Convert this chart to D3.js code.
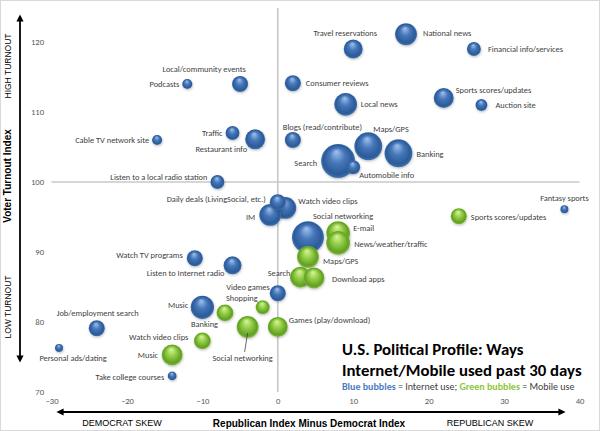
<!DOCTYPE html>
<html>
<head>
<meta charset="utf-8">
<script src="https://cdn.jsdelivr.net/npm/d3@7"></script>
<style>
  html, body { margin: 0; padding: 0; background: #fff; }
  svg { display: block; }
  .lbl { font-family: Carlito, Calibri, Lato, sans-serif; font-size: 8.4px; fill: #404040; }
  .tick text { font-family: Carlito, Calibri, Lato, sans-serif; font-size: 8.6px; fill: #595959; }
</style>
</head>
<body>
<svg id="chart" width="600" height="431"></svg>
<script>
// ---------- DATA ----------
const internetNames = ["Podcasts","Local/community events","Consumer reviews","Traffic","Restaurant info",
  "Blogs (read/contribute)","Cable TV network site","Listen to a local radio station","Travel reservations",
  "National news","Financial info/services","Sports scores/updates","Auction site","Local news","Maps/GPS",
  "Banking","Search","Automobile info","Fantasy sports","Daily deals (LivingSocial, etc.)","Watch video clips",
  "IM","Social networking","Watch TV programs","Listen to Internet radio","Video games","Music",
  "Job/employment search","Personal ads/dating","Take college courses"];
const internetX = [-12,-5,2,-6,-3,2,-16,-8,10,17,26,22,27,9,12,16,8,10,38,0,1,-1,4,-11,-6,0,-10,-24,-29,-14];
const internetY = [114,114,114.1,107,106.1,106,106,100,119,121.1,119,112,111,111.1,105.1,104.1,103,102.1,96.1,97.1,96.3,95.3,92.1,89.1,88.1,84.1,82.1,79.1,76.3,72.3];
const internetSize = [8,20,20,15,31,20,8,15,28,37,15,31,11,40,60,60,89,15,5,20,37,37,79,20,25,20,42,20,5,6];

const mobileNames = ["Sports scores/updates","E-mail","News/weather/traffic","Maps/GPS","Search","Download apps",
  "Shopping","Games (play/download)","Social networking","Banking","Watch video clips","Music"];
const mobileX = [24,8,8,4,3,4.8,-2,0,-4,-7,-10,-14];
const mobileY = [95.1,92.7,91.3,89.3,86.4,86.3,82.1,79.3,79.3,81.3,77.3,75.3];
const mobileSize = [20,44,44,37,34,34,15,31,37,22,22,34];

const xTickValues = [-30,-20,-10,0,10,20,30,40];
const yTickValues = [70,80,90,100,110,120];

// ---------- LABEL LAYOUT (anchor, dx, dy in px relative to bubble centre) ----------
const internetLabelPos = {
  "Podcasts":["end",-8,0], "Local/community events":["middle",-36,-15], "Consumer reviews":["start",13,0],
  "Traffic":["end",-10,0], "Restaurant info":["end",-8,10], "Blogs (read/contribute)":["start",-10,-13],
  "Cable TV network site":["end",-8,0], "Listen to a local radio station":["end",-10,-5],
  "Travel reservations":["middle",-8,-16], "National news":["start",17,-1], "Financial info/services":["start",14,0],
  "Sports scores/updates":["start",12,-8], "Auction site":["start",14,0], "Local news":["start",15,0],
  "Maps/GPS":["start",5,-17], "Banking":["start",18,1], "Search":["end",-21,2], "Automobile info":["start",6,8],
  "Fantasy sports":["middle",0,-11], "Daily deals (LivingSocial, etc.)":["end",-12,-3], "Watch video clips":["start",13,-7],
  "IM":["end",-15,2], "Social networking":["start",5,-21], "Watch TV programs":["end",-12,-3],
  "Listen to Internet radio":["end",-8,8], "Video games":["end",-8,-6], "Music":["end",-14,-2],
  "Job/employment search":["middle",1,-15], "Personal ads/dating":["middle",14,10], "Take college courses":["end",-8,1]
};
const mobileLabelPos = {
  "Sports scores/updates":["start",12,1], "E-mail":["start",15,-5], "News/weather/traffic":["start",16,1],
  "Maps/GPS":["start",15,4], "Search":["end",-10,-4], "Download apps":["start",18,1], "Shopping":["end",-5,-9],
  "Games (play/download)":["start",11,-7], "Social networking":["middle",-5,31], "Banking":["end",-7,11],
  "Watch video clips":["end",-14,-4], "Music":["end",-14,0]
};

// ---------- BUILD ----------
const svg = d3.select("#chart");
const W = 600, H = 431;

const x = d3.scaleLinear().domain([-30, 40]).range([51.5, 579.5]);
const y = d3.scaleLinear().domain([70, 125]).range([392, 7]);
const r = d3.scaleSqrt().domain([0, 100]).range([0, 18]);

// outer border
svg.append("rect").attr("x",0.5).attr("y",0.5).attr("width",W-1).attr("height",H-1)
  .attr("fill","none").attr("stroke","#d9d9d9");

const defs = svg.append("defs");
function sphere(id, c0, c1, c2, c3) {
  const g = defs.append("radialGradient").attr("id", id)
    .attr("cx","50%").attr("cy","50%").attr("r","50%").attr("fx","45%").attr("fy","22%");
  g.append("stop").attr("offset","0%").attr("stop-color",c0);
  g.append("stop").attr("offset","45%").attr("stop-color",c1);
  g.append("stop").attr("offset","86%").attr("stop-color",c2);
  g.append("stop").attr("offset","100%").attr("stop-color",c3);
}
sphere("gBlue", "#a2c4ee", "#4677ba", "#2b5a98", "#4272ae");
sphere("gGreen", "#d9f6a2", "#94cd46", "#62a024", "#7fb83a");

const shadow = defs.append("filter").attr("id","shadow").attr("x","-30%").attr("y","-30%").attr("width","160%").attr("height","170%");
shadow.append("feDropShadow").attr("dx",0.5).attr("dy",1.2).attr("stdDeviation",1).attr("flood-color","#000").attr("flood-opacity",0.25);

defs.append("marker").attr("id","arrow").attr("viewBox","0 0 10 10").attr("refX",5).attr("refY",5)
  .attr("markerWidth",4).attr("markerHeight",4).attr("orient","auto-start-reverse")
  .append("path").attr("d","M0,0 L10,5 L0,10 z").attr("fill","#000");

// reference lines at x=0 and y=100
svg.append("line").attr("x1",x(0)).attr("x2",x(0)).attr("y1",y(125)+1).attr("y2",y(70))
  .attr("stroke","#c8c8c8").attr("stroke-width",1.6);
svg.append("line").attr("x1",x(-30)).attr("x2",x(40)).attr("y1",y(100)).attr("y2",y(100))
  .attr("stroke","#c8c8c8").attr("stroke-width",1.3);

// axes
const xAxis = d3.axisBottom(x).tickValues(xTickValues).tickSize(0).tickPadding(4);
svg.append("g").attr("transform",`translate(0,${y(70)+2})`).call(xAxis).call(g => g.select(".domain").remove());
const yAxis = d3.axisLeft(y).tickValues(yTickValues).tickSize(0).tickPadding(4);
svg.append("g").attr("transform",`translate(48,0)`).call(yAxis).call(g => g.select(".domain").remove());

// arrows
svg.append("line").attr("x1",20).attr("x2",20).attr("y1",18).attr("y2",359)
  .attr("stroke","#000").attr("stroke-width",1.8)
  .attr("marker-start","url(#arrow)").attr("marker-end","url(#arrow)");
svg.append("line").attr("x1",60).attr("x2",562).attr("y1",412).attr("y2",412)
  .attr("stroke","#000").attr("stroke-width",1.8)
  .attr("marker-start","url(#arrow)").attr("marker-end","url(#arrow)");

// axis titles
const arial = "'Liberation Sans', Arial, sans-serif";
svg.append("text").attr("transform","translate(11,176) rotate(-90)").attr("text-anchor","middle")
  .attr("font-family",arial).attr("font-weight","bold").attr("font-size","10px").attr("fill","#000")
  .text("Voter Turnout Index");
svg.append("text").attr("transform","translate(11,66) rotate(-90)").attr("text-anchor","middle")
  .attr("font-family",arial).attr("font-size","8.5px").attr("fill","#000").text("HIGH TURNOUT");
svg.append("text").attr("transform","translate(11,307) rotate(-90)").attr("text-anchor","middle")
  .attr("font-family",arial).attr("font-size","8.5px").attr("fill","#000").text("LOW TURNOUT");
svg.append("text").attr("x",309).attr("y",427).attr("text-anchor","middle")
  .attr("font-family",arial).attr("font-weight","bold").attr("font-size","10px").attr("fill","#000")
  .text("Republican Index Minus Democrat Index");
svg.append("text").attr("x",122).attr("y",426).attr("text-anchor","middle")
  .attr("font-family",arial).attr("font-size","9px").attr("fill","#000").text("DEMOCRAT SKEW");
svg.append("text").attr("x",490).attr("y",426).attr("text-anchor","middle")
  .attr("font-family",arial).attr("font-size","9px").attr("fill","#000").text("REPUBLICAN SKEW");

// data rows
const internet = internetNames.map((n,i) => ({name:n, x:internetX[i], y:internetY[i], size:internetSize[i], pos:internetLabelPos[n], grad:"gBlue"}));
const mobile = mobileNames.map((n,i) => ({name:n, x:mobileX[i], y:mobileY[i], size:mobileSize[i], pos:mobileLabelPos[n], grad:"gGreen"}));

function drawSeries(data, cls) {
  const sorted = data.slice().sort((a,b) => b.size - a.size);
  const g = svg.append("g").attr("class", cls);
  g.selectAll("circle").data(sorted).join("circle")
    .attr("cx", d => x(d.x)).attr("cy", d => y(d.y)).attr("r", d => r(d.size))
    .attr("fill", d => `url(#${d.grad})`)
    .attr("filter", "url(#shadow)");
}
drawSeries(internet, "internet");
drawSeries(mobile, "mobile");

// leader line (mobile social networking)
const sn = mobile.find(d => d.name === "Social networking");
svg.append("line").attr("x1", x(sn.x)).attr("y1", y(sn.y)+6).attr("x2", x(sn.x)-3).attr("y2", y(sn.y)+25)
  .attr("stroke","#404040").attr("stroke-width",0.8);

// labels
const lg = svg.append("g");
lg.selectAll("text").data(internet.concat(mobile)).join("text")
  .attr("class","lbl")
  .attr("x", d => x(d.x) + d.pos[1]).attr("y", d => y(d.y) + d.pos[2])
  .attr("dy","0.35em").attr("text-anchor", d => d.pos[0])
  .text(d => d.name);

// title block
const title = svg.append("g").attr("font-family","Carlito, Calibri, Lato, sans-serif");
title.append("text").attr("x",342).attr("y",355).attr("font-size","16.8px").attr("font-weight","bold").attr("fill","#000")
  .text("U.S. Political Profile: Ways");
title.append("text").attr("x",342).attr("y",376).attr("font-size","16.8px").attr("font-weight","bold").attr("fill","#000")
  .text("Internet/Mobile used past 30 days");
const sub = title.append("text").attr("x",342).attr("y",390).attr("font-size","10px").attr("fill","#404040");
sub.append("tspan").attr("font-weight","bold").attr("fill","#4a7cc0").text("Blue bubbles");
sub.append("tspan").text(" = Internet use; ");
sub.append("tspan").attr("font-weight","bold").attr("fill","#8cc63e").text("Green bubbles");
sub.append("tspan").text(" = Mobile use");
</script>
</body>
</html>
